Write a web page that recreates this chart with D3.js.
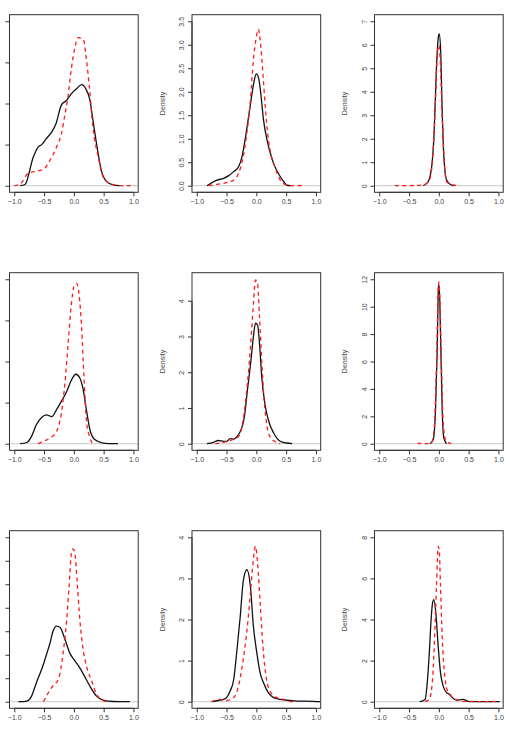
<!DOCTYPE html>
<html>
<head>
<meta charset="utf-8">
<script src="https://d3js.org/d3.v7.min.js"></script>
<style>
  body { margin: 0; background: #fff; }
  svg { display: block; }
</style>
</head>
<body>
<svg id="chart"></svg>
<script>
// density curves, [x, density]
const p11Black = [[-0.9,0],[-0.82,0.03],[-0.68,0.7],[-0.6,0.94],[-0.54,1.0],[-0.46,1.15],[-0.37,1.31],[-0.3,1.51],[-0.21,1.96],[-0.12,2.08],[-0.04,2.24],[0.045,2.36],[0.13,2.46],[0.2,2.36],[0.27,2.08],[0.32,1.6],[0.39,0.94],[0.46,0.38],[0.55,0.1],[0.66,0.02],[0.77,0]];
const p11Red = [[-1.0,0],[-0.9,0.04],[-0.77,0.3],[-0.68,0.34],[-0.51,0.4],[-0.4,0.62],[-0.29,0.94],[-0.21,1.26],[-0.15,1.73],[-0.1,2.15],[-0.04,2.87],[0.017,3.35],[0.07,3.6],[0.16,3.56],[0.2,3.2],[0.26,2.4],[0.32,1.43],[0.41,0.7],[0.49,0.22],[0.6,0.06],[0.77,0],[1.02,0]];

const p12Black = [[-0.83,0],[-0.75,0.06],[-0.66,0.12],[-0.55,0.156],[-0.47,0.21],[-0.38,0.3],[-0.3,0.4],[-0.24,0.62],[-0.19,0.97],[-0.13,1.47],[-0.08,1.9],[-0.04,2.21],[0,2.38],[0.04,2.28],[0.08,1.9],[0.12,1.4],[0.18,0.97],[0.22,0.76],[0.29,0.47],[0.37,0.26],[0.46,0.085],[0.51,0.014],[0.57,0]];
const p12Red = [[-0.8,0],[-0.66,0.03],[-0.5,0.064],[-0.38,0.12],[-0.3,0.26],[-0.22,0.62],[-0.16,1.11],[-0.1,1.82],[-0.05,2.67],[0,3.17],[0.036,3.33],[0.064,3.1],[0.11,2.39],[0.15,1.68],[0.19,1.11],[0.23,0.76],[0.32,0.37],[0.4,0.12],[0.48,0.03],[0.57,0.003],[0.78,0.005]];

const p13Black = [[-0.26,0],[-0.18,0.17],[-0.12,0.81],[-0.08,2.22],[-0.04,5.05],[-0.01,6.3],[0.006,6.46],[0.03,5.76],[0.056,3.2],[0.084,1.23],[0.13,0.24],[0.21,0.03],[0.27,0]];
const p13Red = [[-0.74,0],[-0.54,0.005],[-0.37,0.015],[-0.23,0.06],[-0.15,0.31],[-0.095,1.51],[-0.056,3.64],[-0.028,5.48],[0,5.98],[0.028,5.05],[0.056,2.93],[0.09,1.09],[0.13,0.17],[0.21,0.06],[0.35,0]];

const p21Black = [[-0.9,0],[-0.79,0.03],[-0.71,0.18],[-0.63,0.46],[-0.54,0.64],[-0.46,0.7],[-0.37,0.66],[-0.29,0.83],[-0.21,1.03],[-0.12,1.27],[-0.04,1.55],[0.034,1.69],[0.1,1.6],[0.156,1.32],[0.21,0.83],[0.27,0.34],[0.35,0.1],[0.49,0.016],[0.74,0]];
const p21Red = [[-0.6,0],[-0.51,0.06],[-0.4,0.14],[-0.29,0.3],[-0.21,0.74],[-0.15,1.47],[-0.1,2.36],[-0.04,3.42],[0,3.82],[0.045,3.9],[0.09,3.6],[0.13,2.83],[0.17,1.62],[0.21,0.58],[0.27,0.14],[0.32,0]];

const p22Black = [[-0.83,0],[-0.72,0.04],[-0.64,0.09],[-0.55,0.065],[-0.5,0.065],[-0.44,0.14],[-0.38,0.13],[-0.33,0.19],[-0.27,0.34],[-0.2,0.76],[-0.15,1.5],[-0.09,2.34],[-0.05,2.99],[-0.014,3.37],[0.02,3.32],[0.053,2.81],[0.09,1.88],[0.15,1.05],[0.2,0.67],[0.29,0.3],[0.4,0.07],[0.51,0.02],[0.6,0]];
const p22Red = [[-0.69,0],[-0.55,0.04],[-0.41,0.11],[-0.3,0.2],[-0.22,0.67],[-0.15,1.69],[-0.09,2.9],[-0.05,3.9],[-0.014,4.58],[0.02,4.49],[0.053,3.55],[0.09,2.34],[0.13,1.23],[0.18,0.48],[0.23,0.19],[0.32,0.056],[0.4,0]];

const p23Black = [[-0.15,0],[-0.095,0.29],[-0.056,2.48],[-0.028,6.8],[-0.006,11.46],[0.006,11.58],[0.028,8.06],[0.056,2.48],[0.084,0.41],[0.13,0]];
const p23Red = [[-0.36,0],[-0.33,0.05],[-0.29,0],[-0.21,0],[-0.12,0.1],[-0.08,1.02],[-0.04,5.63],[-0.01,11.17],[0,11.8],[0.017,10.5],[0.045,5.63],[0.073,1.5],[0.12,0.17],[0.18,0.05],[0.21,0]];

const p31Black = [[-0.93,0],[-0.79,0.015],[-0.71,0.12],[-0.63,0.4],[-0.54,0.69],[-0.46,1.0],[-0.4,1.25],[-0.35,1.5],[-0.29,1.61],[-0.23,1.58],[-0.15,1.33],[-0.07,1.04],[0.017,0.87],[0.1,0.72],[0.18,0.54],[0.27,0.33],[0.38,0.12],[0.49,0.035],[0.66,0.005],[0.94,0]];
const p31Red = [[-0.51,0],[-0.43,0.19],[-0.35,0.34],[-0.26,0.48],[-0.18,1.04],[-0.12,1.75],[-0.08,2.45],[-0.04,3.17],[-0.011,3.25],[0.017,3.17],[0.056,2.53],[0.1,1.75],[0.156,1.11],[0.22,0.72],[0.3,0.44],[0.38,0.16],[0.46,0.05],[0.55,0]];

const p32Black = [[-0.75,0],[-0.64,0.03],[-0.55,0.057],[-0.5,0.1],[-0.44,0.26],[-0.38,0.54],[-0.33,1.19],[-0.27,2.08],[-0.22,2.93],[-0.16,3.21],[-0.1,2.81],[-0.05,1.84],[0.008,1.19],[0.064,0.7],[0.12,0.46],[0.2,0.22],[0.29,0.1],[0.4,0.057],[0.57,0.03],[0.68,0.015],[0.96,0.01],[1.07,0]];
const p32Red = [[-0.75,0],[-0.61,0.057],[-0.5,0.03],[-0.38,0.1],[-0.3,0.38],[-0.22,1.03],[-0.15,1.84],[-0.09,2.81],[-0.05,3.46],[-0.014,3.78],[0.02,3.38],[0.064,2.4],[0.11,1.35],[0.17,0.54],[0.23,0.26],[0.34,0.1],[0.46,0.057],[0.57,0.008],[0.65,0]];

const p33Black = [[-0.32,0],[-0.23,0.11],[-0.2,0.76],[-0.16,2.38],[-0.13,4.0],[-0.106,4.8],[-0.084,4.97],[-0.05,4.3],[-0.011,2.7],[0.028,1.4],[0.073,0.76],[0.13,0.44],[0.18,0.36],[0.24,0.16],[0.3,0.08],[0.41,0.11],[0.49,0.016],[0.58,0],[1.02,0]];
const p33Red = [[-0.23,0],[-0.16,0.11],[-0.106,1.08],[-0.067,3.48],[-0.04,5.62],[-0.011,7.56],[0.006,7.4],[0.028,5.62],[0.056,3.19],[0.1,1.25],[0.156,0.44],[0.24,0.19],[0.32,0.08],[0.41,0.016],[0.58,0.016],[0.75,0],[0.91,0.016],[0.97,0]];

// tick labels
const xTicks = [-1, -0.5, 0, 0.5, 1];
const yMax = [4, 3.5, 7, 4, 4.6, 12, 3.5, 4, 8];
const yTicks = [
  [0, 1, 2, 3, 4],
  [0, 0.5, 1, 1.5, 2, 2.5, 3, 3.5],
  [0, 1, 2, 3, 4, 5, 6, 7],
  [0, 1, 2, 3, 4],
  [0, 1, 2, 3, 4],
  [0, 2, 4, 6, 8, 10, 12],
  [0, 0.5, 1, 1.5, 2, 2.5, 3, 3.5],
  [0, 1, 2, 3, 4],
  [0, 2, 4, 6, 8]
];
const yFormat = ["d", ".1f", "d", "d", "d", "d", ".1f", "d", "d"];

const panels = [
  [p11Black, p11Red], [p12Black, p12Red], [p13Black, p13Red],
  [p21Black, p21Red], [p22Black, p22Red], [p23Black, p23Red],
  [p31Black, p31Red], [p32Black, p32Red], [p33Black, p33Red]
];

const W = 510, H = 749;
const colLeft = [9.5, 192, 374.5];
const rowTop = [14.7, 272.7, 530.7];
const boxW = 128.7, boxH = 177.6;
const font = "Liberation Sans, Arial, Helvetica, sans-serif";
const fs = 7;
const minus = s => s.replace("-", "\u2212");

const svg = d3.select("#chart").attr("width", W).attr("height", H);

panels.forEach(function (p, i) {
  const col = i % 3, row = Math.floor(i / 3);
  const left = colLeft[col], top = rowTop[row];

  const x = d3.scaleLinear().domain([-1.08, 1.08]).range([left, left + boxW]);
  const m = yMax[i];
  const y = d3.scaleLinear().domain([-0.04 * m, 1.04 * m]).range([top + boxH, top]);

  const g = svg.append("g");

  // clip to plot region
  const clipId = "clip" + i;
  svg.append("clipPath").attr("id", clipId)
    .append("rect").attr("x", left).attr("y", top).attr("width", boxW).attr("height", boxH);

  // zero line
  g.append("line")
    .attr("x1", left).attr("x2", left + boxW)
    .attr("y1", y(0)).attr("y2", y(0))
    .attr("stroke", "#c8c8c8").attr("stroke-width", 1);

  const line = d3.line()
    .x(d => x(d[0]))
    .y(d => y(d[1]))
    .curve(d3.curveMonotoneX);

  g.append("path")
    .attr("d", line(p[0]))
    .attr("clip-path", "url(#" + clipId + ")")
    .attr("fill", "none").attr("stroke", "#111").attr("stroke-width", 1.3);

  g.append("path")
    .attr("d", line(p[1]))
    .attr("clip-path", "url(#" + clipId + ")")
    .attr("fill", "none").attr("stroke", "#ff1a1a").attr("stroke-width", 1.3)
    .attr("stroke-dasharray", "4,3.5");

  // x axis
  const ax = g.append("g")
    .attr("transform", "translate(0," + (top + boxH) + ")")
    .call(d3.axisBottom(x).tickValues(xTicks).tickSize(4).tickPadding(3)
      .tickFormat(d => minus(d3.format(".1f")(d))));

  // y axis
  const ay = g.append("g")
    .attr("transform", "translate(" + left + ",0)")
    .call(d3.axisLeft(y).tickValues(yTicks[i]).tickSize(4).tickPadding(3)
      .tickFormat(d => d3.format(yFormat[i])(d)));

  [ax, ay].forEach(a => {
    a.select(".domain").attr("stroke", "#333");
    a.selectAll(".tick line").attr("stroke", "#333");
    a.selectAll("text").attr("fill", "#444").attr("font-size", fs).attr("font-family", font);
  });
  // axis lines only between first and last tick, like base graphics
  ax.select(".domain").attr("d", "M" + x(-1) + ",0H" + x(1));
  ay.select(".domain").attr("d", "M0," + y(yTicks[i][0]) + "V" + y(yTicks[i][yTicks[i].length - 1]));

  // rotated y labels
  ay.selectAll(".tick text")
    .attr("x", null)
    .attr("text-anchor", "middle")
    .attr("transform", "translate(-10,0) rotate(-90)")
    .attr("dy", "0.35em");

  if (col === 0) ay.selectAll(".tick text").remove();

  // box
  g.append("rect")
    .attr("x", left).attr("y", top).attr("width", boxW).attr("height", boxH)
    .attr("fill", "none").attr("stroke", "#333").attr("stroke-width", 1);

  // Density label
  if (col > 0) {
    g.append("text")
      .attr("transform", "translate(" + (left - 29.5) + "," + (top + boxH / 2) + ") rotate(-90)")
      .attr("text-anchor", "middle").attr("dy", "0.35em")
      .attr("font-size", fs).attr("font-family", font).attr("fill", "#444")
      .text("Density");
  }
});
</script>
</body>
</html>
